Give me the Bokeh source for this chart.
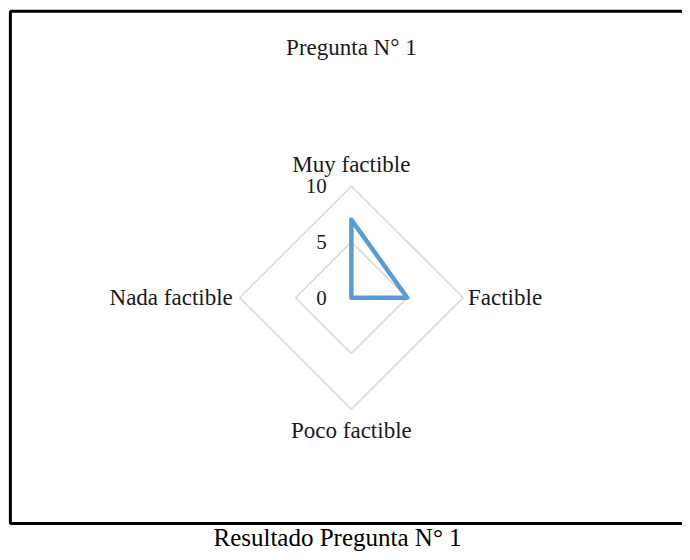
import numpy as np
from bokeh.plotting import figure
from bokeh.models import Range1d
from bokeh.core.properties import value
from bokeh.embed import file_html
from bokeh.resources import INLINE

# ---- data ----
categories = ["Muy factible", "Factible", "Poco factible", "Nada factible"]
values = [7, 5, 0, 0]
ring_levels = [5, 10]
tick_values = [0, 5, 10]
tick_labels = ["0", "5", "10"]
title_text = "Pregunta N° 1"
caption_text = "Resultado Pregunta N° 1"

# ---- layout: figure shows the reference's 690x560 pixel area ----
W, H = 682, 552
REF_W, REF_H = 690, 560
CX, CY = 355.0, 301.5       # radar centre in reference px
SCALE = 11.3                # reference px per value unit

def sx(px):
    return (px - CX) / SCALE

def sy(py):
    return (CY - py) / SCALE

FONT = value("Liberation Serif")

p = figure(width=W, height=H, output_backend="svg", toolbar_location=None,
           x_range=Range1d(sx(0), sx(REF_W)), y_range=Range1d(sy(REF_H), sy(0)),
           x_axis_location=None, y_axis_location=None, min_border=0,
           tools="")
p.grid.visible = False
p.outline_line_color = None
p.background_fill_color = "white"
p.border_fill_color = "white"

# angles: clockwise from top
n = len(categories)
angles = np.pi / 2 - 2 * np.pi * np.arange(n) / n

# frame
p.line([sx(REF_W + 20), sx(10), sx(10), sx(REF_W + 20)],
       [sy(11), sy(11), sy(530.5), sy(530.5)],
       line_color="black", line_width=3)

# rings
for r in ring_levels:
    xs = list(r * np.cos(angles)) + [r * np.cos(angles[0])]
    ys = list(r * np.sin(angles)) + [r * np.sin(angles[0])]
    p.line(xs, ys, line_color="#D9D9D9", line_width=1.6)

# data
v = np.array(values, dtype=float)
dx = list(v * np.cos(angles)) + [v[0] * np.cos(angles[0])]
dy = list(v * np.sin(angles)) + [v[0] * np.sin(angles[0])]
p.line(dx, dy, line_color="#5B9BD5", line_width=4.5, line_join="round", line_cap="round")

LBL = "23px"
TXT = "#1a1a1a"
# tick labels
p.text(x=[sx(330)] * len(tick_values), y=tick_values, text=tick_labels,
       text_font=FONT, text_font_size="21px", text_align="right",
       text_baseline="middle", text_color=TXT)

# category labels
p.text(x=[0], y=[sy(166)], text=[categories[0]], text_font=FONT, text_font_size=LBL,
       text_align="center", text_baseline="middle", text_color=TXT)
p.text(x=[sx(473)], y=[0], text=[categories[1]], text_font=FONT, text_font_size=LBL,
       text_align="left", text_baseline="middle", text_color=TXT)
p.text(x=[0], y=[sy(436)], text=[categories[2]], text_font=FONT, text_font_size=LBL,
       text_align="center", text_baseline="middle", text_color=TXT)
p.text(x=[sx(235)], y=[0], text=[categories[3]], text_font=FONT, text_font_size=LBL,
       text_align="right", text_baseline="middle", text_color=TXT)

# title
p.text(x=[0], y=[sy(48)], text=[title_text], text_font=FONT, text_font_size="23px",
       text_align="center", text_baseline="middle", text_color=TXT)

# caption
p.text(x=[sx(341)], y=[sy(545)], text=[caption_text], text_font=FONT, text_font_size="25px",
       text_align="center", text_baseline="middle", text_color="black")

open("out.html", "w").write(file_html(p, INLINE))
